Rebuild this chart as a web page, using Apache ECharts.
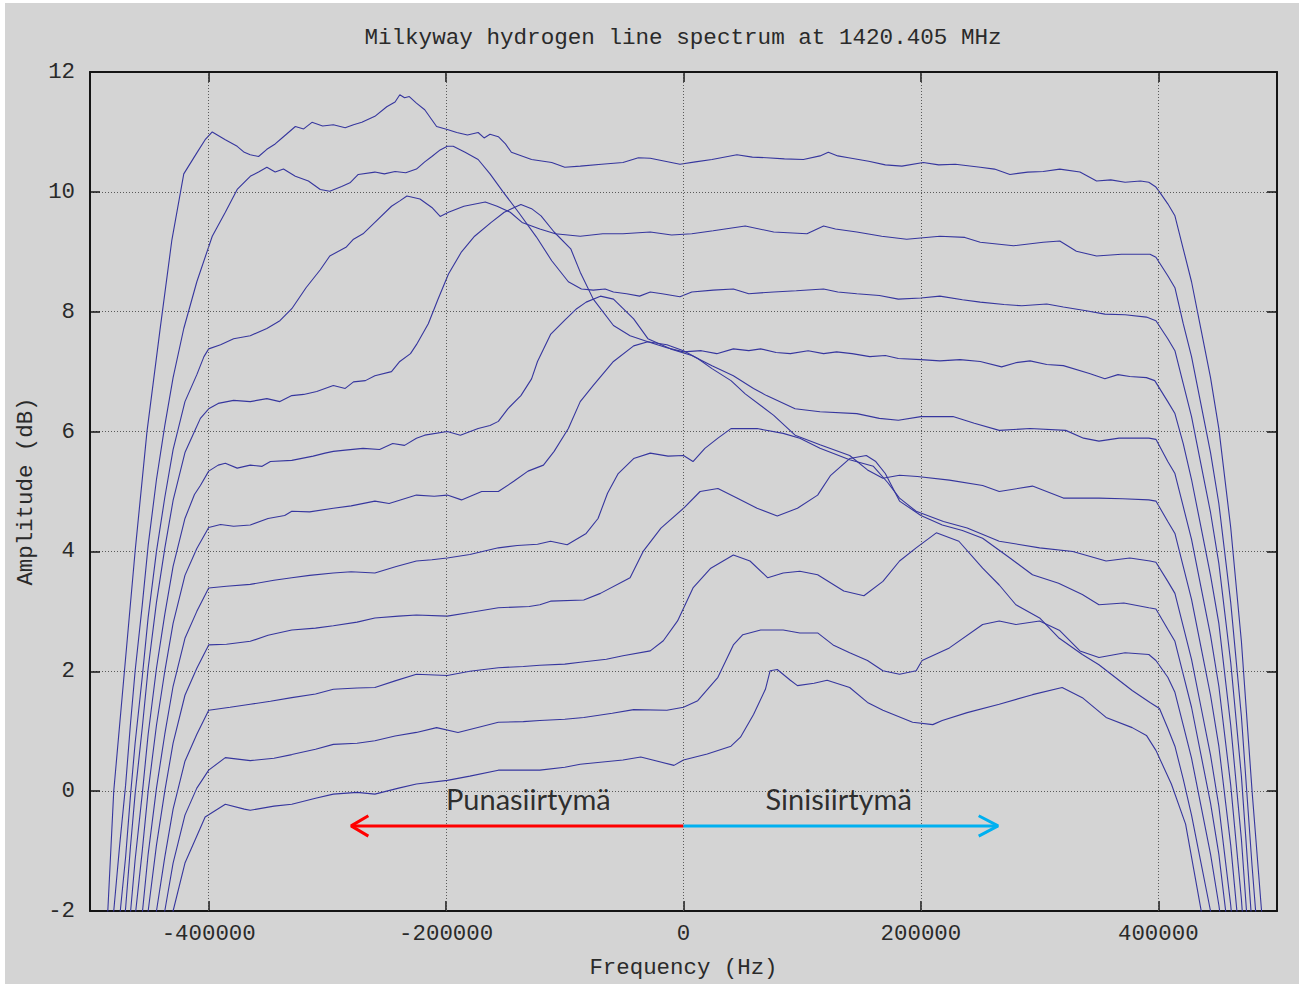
<!DOCTYPE html>
<html>
<head>
<meta charset="utf-8">
<script src="https://cdn.jsdelivr.net/npm/echarts@6/dist/echarts.min.js"></script>
<style>
  html, body { margin: 0; padding: 0; background: #ffffff; width: 1299px; height: 984px; overflow: hidden; }
  #chart { position: absolute; left: 5px; top: 3px; width: 1294px; height: 981px; background: #d4d4d4; }
</style>
</head>
<body>
<div id="chart"></div>
<script>
// Eleven drift-scan spectra, [frequency offset in kHz, amplitude in dB]
const spectrum01 = [[-490,-3.6],[-485,-2],[-480,0],[-471,2],[-462,4],[-452,6],[-441,7.7],[-431,9.2],[-421,10.3],[-410,10.65],[-403,10.87],
  [-397,11.0],[-386,10.87],[-376,10.76],[-370,10.66],[-365,10.62],[-358,10.59],[-351,10.71],[-344,10.8],[-337,10.92],[-327,11.09],[-320,11.05],[-313,11.16],[-304,11.1],[-295,11.12],[-285,11.07],[-278,11.12],[-271,11.16],[-260,11.26],[-250,11.42],[-243,11.5],[-239,11.62],[-235,11.57],[-231,11.59],[-225,11.48],[-218,11.37],[-208,11.09],[-199,11.04],[-191,10.99],[-182,10.95],[-173,10.99],[-168,10.9],[-163,10.96],[-156,10.92],[-150,10.8],[-145,10.66],[-128,10.54],[-111,10.49],[-100,10.41],[-87,10.43],[-69,10.46],[-51,10.49],[-38,10.57],[-28,10.56],[-3,10.46],[10,10.5],[24,10.54],[45,10.62],[58,10.58],[70,10.57],[85,10.55],[101,10.54],[115,10.6],[122,10.66],[130,10.6],[139,10.57],[156,10.51],[170,10.45],[184,10.43],[202,10.49],[215,10.45],[229,10.46],[250,10.41],[262,10.38],[275,10.29],[290,10.33],[303,10.34],[317,10.38],[334,10.33],[348,10.18],[360,10.2],[372,10.16],[385,10.18],[392,10.16],[398,10.08],
  [401,10.0],[408,9.8],[414,9.6],[421,9.05],[428,8.5],[436,7.7],[444,6.9],[451,6.05],[461,4.4],[470,2.5],[479,0],[487,-2],[492,-3.3]];

const spectrum02 = [[-485,-4],[-480,-2],[-475,-0.9],[-470,0.1],[-466,1.1],[-462,2.0],[-456,3.1],[-451,4.1],[-444,5.2],[-437,6.1],[-430,6.9],[-421,7.72],[-410,8.5],[-397,9.26],[-386,9.66],[-376,10.04],[-365,10.26],[-358,10.33],[-351,10.41],[-344,10.33],[-337,10.38],[-327,10.26],[-316,10.18],[-306,10.04],[-298,10.01],[-288,10.09],[-281,10.15],[-274,10.29],[-260,10.33],[-252,10.3],[-243,10.34],[-234,10.32],[-225,10.38],[-218,10.5],[-212,10.59],[-205,10.7],[-199,10.76],[-194,10.76],[-184,10.66],[-173,10.54],[-163,10.3],[-152,10.0],[-139,9.66],[-124,9.25],[-111,8.85],[-97,8.5],[-86,8.38],[-76,8.36],
  [-66,8.38],[-59,8.33],[-48,8.3],[-37,8.26],[-28,8.33],[-18,8.3],[-3,8.25],[7,8.33],[25,8.36],[42,8.38],[55,8.3],[76,8.33],[95,8.35],[118,8.38],[130,8.33],[146,8.3],[165,8.27],[181,8.21],[200,8.23],[216,8.26],[235,8.2],[250,8.16],[270,8.12],[285,8.1],[306,8.13],[320,8.08],[338,8.02],[355,7.96],[372,7.95],[390,7.91],[398,7.85],
  [408,7.55],[414,7.35],[421,6.8],[428,6.25],[436,5.45],[444,4.65],[451,3.8],[461,2.15],[470,0.25],[479,-2.25],[487,-4.2]];

const spectrum03 = [[-480,-3.3],[-475,-2.1],[-470,-1.1],[-466,-0.1],[-462,0.8],[-456,1.9],[-451,2.9],[-444,4.0],[-437,4.9],[-430,5.7],[-420,6.5],[-410,6.95],[-404,7.25],[-400,7.38],[-390,7.45],[-379,7.55],[-365,7.6],[-351,7.72],[-340,7.85],[-330,8.05],[-318,8.4],[-306,8.7],[-298,8.93],[-284,9.08],[-278,9.21],[-270,9.3],[-260,9.49],[-246,9.76],[-239,9.85],[-233,9.93],[-222,9.88],[-212,9.74],[-205,9.59],[-198,9.66],[-185,9.76],[-167,9.83],[-157,9.76],[-146,9.66],[-136,9.49],[-121,9.38],[-108,9.3],[-87,9.26],[-68,9.3],[-51,9.3],[-28,9.33],
  [-10,9.28],[7,9.3],[25,9.35],[35,9.38],[52,9.43],[76,9.33],[104,9.3],[118,9.43],[128,9.38],[146,9.33],[167,9.26],[188,9.21],[216,9.26],[237,9.24],[250,9.16],[278,9.1],[303,9.16],[317,9.18],[331,9.01],[348,8.93],[369,8.96],[393,8.96],[398,8.91],
  [408,8.6],[414,8.4],[421,7.8],[428,7.25],[436,6.45],[444,5.65],[451,4.8],[461,3.15],[470,1.25],[479,-1.25],[487,-3.25]];

const spectrum04 = [[-475,-2.95],[-470,-1.95],[-466,-0.95],[-462,-0.05],[-456,1.05],[-451,2.05],[-444,3.15],[-437,4.05],[-430,4.85],[-420,5.65],[-412,6.0],[-407,6.22],[-400,6.38],[-392,6.47],[-379,6.52],[-365,6.5],[-351,6.55],[-340,6.5],[-330,6.6],[-320,6.62],[-309,6.67],[-295,6.77],[-285,6.72],[-278,6.83],[-268,6.85],[-260,6.93],[-246,7.0],[-239,7.17],[-230,7.3],[-225,7.45],[-215,7.8],[-207,8.2],[-198,8.63],[-187,9.0],[-176,9.26],[-162,9.49],[-151,9.66],[-137,9.79],[-128,9.72],[-120,9.6],[-109,9.33],[-95,9.05],[-87,8.66],[-76,8.21],[-59,7.77],[-45,7.6],[-30,7.5],[-14,7.4],
  [0,7.33],[15,7.35],[28,7.3],[42,7.38],[55,7.35],[65,7.38],[78,7.32],[90,7.3],[105,7.35],[118,7.3],[129,7.33],[142,7.3],[157,7.25],[170,7.27],[181,7.22],[200,7.2],[216,7.18],[233,7.2],[250,7.17],[268,7.08],[280,7.15],[292,7.18],[306,7.12],[320,7.1],[342,6.97],[355,6.88],[366,6.95],[376,6.92],[390,6.9],[397,6.85],
  [408,6.5],[414,6.3],[421,5.8],[428,5.2],[436,4.4],[444,3.6],[451,2.8],[461,1.1],[470,-0.8],[479,-3.3]];

const spectrum05 = [[-470,-3.05],[-466,-2.05],[-462,-1.15],[-456,-0.05],[-451,0.95],[-444,2.05],[-437,2.95],[-430,3.75],[-420,4.55],[-412,4.95],[-407,5.1],[-400,5.34],[-392,5.44],[-386,5.47],[-376,5.39],[-365,5.44],[-355,5.42],[-348,5.5],[-330,5.52],[-312,5.59],[-302,5.64],[-295,5.67],[-285,5.69],[-270,5.72],[-256,5.7],[-245,5.8],[-235,5.77],[-225,5.89],[-218,5.94],[-199,6.0],[-188,5.94],[-173,6.05],[-163,6.1],[-156,6.17],[-148,6.38],[-137,6.6],[-128,6.88],[-123,7.17],[-112,7.62],[-100,7.86],[-90,8.05],[-82,8.16],[-70,8.26],[-59,8.21],[-42,7.88],[-30,7.55],[-11,7.38],[7,7.27],[24,7.1],[42,6.93],[59,6.72],[70,6.6],[94,6.38],[115,6.33],[146,6.3],[165,6.22],[181,6.19],[200,6.25],[227,6.25],[245,6.14],[266,6.02],[292,6.05],[322,6.02],[337,5.89],[350,5.84],[367,5.89],[392,5.89],[398,5.87],
  [408,5.5],[414,5.3],[421,4.75],[428,4.2],[436,3.4],[444,2.6],[451,1.75],[461,0.1],[470,-1.8],[479,-4.3]];

const spectrum06 = [[-466,-3.0],[-462,-2.1],[-456,-1.0],[-451,0.0],[-444,1.1],[-437,2.0],[-430,2.8],[-420,3.6],[-410,4.05],[-400,4.4],[-390,4.45],[-379,4.42],[-365,4.44],[-350,4.55],[-336,4.6],[-330,4.67],[-315,4.66],[-295,4.72],[-280,4.76],[-260,4.84],[-248,4.8],[-225,4.94],[-210,4.92],[-199,4.94],[-187,4.86],[-170,5.0],[-156,5.0],[-143,5.17],[-131,5.34],[-118,5.44],[-109,5.67],[-97,6.05],[-87,6.5],[-76,6.77],[-59,7.17],[-42,7.43],[-30,7.5],[-14,7.45],[0,7.35],[12,7.22],[24,7.05],[40,6.85],[52,6.63],[76,6.27],[94,5.94],[115,5.78],[140,5.6],[155,5.36],[168,5.22],[182,5.27],[197,5.25],[224,5.19],[252,5.1],[266,5.0],[294,5.09],[320,4.89],[350,4.89],[370,4.88],[392,4.86],[398,4.84],
  [408,4.5],[414,4.3],[421,3.75],[428,3.2],[436,2.4],[444,1.6],[451,0.75],[461,-0.9],[470,-2.8]];

const spectrum07 = [[-462,-3.15],[-456,-2.05],[-451,-1.05],[-444,0.05],[-437,0.95],[-430,1.75],[-420,2.55],[-410,3.0],[-400,3.39],[-385,3.42],[-365,3.45],[-345,3.52],[-330,3.56],[-315,3.6],[-295,3.64],[-280,3.66],[-260,3.64],[-242,3.75],[-225,3.84],[-212,3.86],[-199,3.89],[-180,3.95],[-156,4.06],[-140,4.1],[-123,4.12],[-112,4.17],[-98,4.11],[-82,4.3],[-72,4.55],[-64,4.97],[-55,5.3],[-42,5.55],[-28,5.64],[-13,5.59],[0,5.6],[8,5.5],[18,5.72],[29,5.89],[40,6.05],[62,6.05],[84,5.97],[98,5.89],[115,5.72],[140,5.53],[160,5.42],[172,5.15],[182,4.89],[196,4.67],[219,4.5],[239,4.39],[266,4.17],[300,4.06],[328,4.0],[356,3.84],[376,3.89],[393,3.84],[398,3.82],
  [408,3.5],[414,3.3],[421,2.75],[428,2.2],[436,1.4],[444,0.6],[451,-0.25],[461,-1.9],[470,-3.8]];

const spectrum08 = [[-456,-3.0],[-451,-2.0],[-444,-0.9],[-437,0.0],[-430,0.8],[-420,1.6],[-410,2.05],[-400,2.44],[-385,2.45],[-365,2.5],[-350,2.6],[-330,2.69],[-310,2.72],[-295,2.76],[-275,2.82],[-260,2.89],[-240,2.92],[-225,2.94],[-199,2.92],[-180,2.98],[-156,3.06],[-130,3.08],[-121,3.11],[-112,3.17],[-84,3.19],[-70,3.3],[-51,3.5],[-45,3.56],[-34,4.0],[-19,4.39],[0,4.72],[14,5.0],[29,5.05],[45,4.89],[62,4.72],[79,4.59],[96,4.72],[113,4.94],[124,5.27],[140,5.55],[154,5.6],[162,5.5],[170,5.3],[182,4.84],[200,4.6],[218,4.44],[235,4.35],[252,4.22],[275,3.89],[294,3.61],[316,3.47],[336,3.28],[350,3.11],[371,3.14],[392,3.06],[398,3.04],
  [408,2.7],[414,2.5],[421,1.95],[428,1.4],[436,0.6],[444,-0.2],[451,-1.05],[461,-2.7]];

const spectrum09 = [[-451,-3.1],[-444,-2.0],[-437,-1.1],[-430,-0.3],[-420,0.5],[-410,0.95],[-400,1.35],[-382,1.4],[-365,1.45],[-348,1.5],[-330,1.56],[-310,1.62],[-295,1.7],[-275,1.72],[-260,1.73],[-243,1.84],[-225,1.95],[-199,1.93],[-180,2.0],[-156,2.06],[-135,2.08],[-121,2.1],[-100,2.12],[-87,2.15],[-65,2.2],[-51,2.26],[-28,2.34],[-17,2.51],[-5,2.84],[8,3.39],[23,3.72],[42,3.94],[56,3.84],[71,3.56],[84,3.64],[98,3.67],[113,3.61],[135,3.34],[152,3.26],[168,3.5],[182,3.84],[196,4.06],[213,4.31],[232,4.17],[252,3.72],[266,3.44],[280,3.11],[300,2.89],[316,2.56],[336,2.28],[350,2.11],[378,1.68],[393,1.48],[401,1.38],
  [408,1.05],[414,0.75],[421,0.2],[428,-0.4],[436,-1.2],[444,-2.0],[451,-2.9]];

const spectrum10 = [[-444,-2.9],[-437,-2.0],[-430,-1.2],[-420,-0.4],[-410,0.05],[-400,0.35],[-386,0.56],[-365,0.51],[-345,0.55],[-330,0.61],[-310,0.7],[-295,0.78],[-275,0.8],[-260,0.84],[-243,0.92],[-225,0.98],[-208,1.06],[-190,0.98],[-170,1.08],[-156,1.15],[-135,1.16],[-121,1.18],[-100,1.2],[-84,1.23],[-60,1.3],[-42,1.36],[-14,1.35],[0,1.4],[12,1.51],[29,1.9],[42,2.44],[50,2.61],[65,2.69],[84,2.69],[98,2.64],[113,2.64],[126,2.44],[140,2.31],[155,2.18],[168,2.01],[182,1.95],[196,2.01],[201,2.18],[224,2.39],[252,2.78],[266,2.84],[280,2.78],[300,2.84],[317,2.68],[334,2.34],[350,2.23],[372,2.31],[392,2.28],[398,2.18],
  [408,1.9],[414,1.65],[421,1.1],[428,0.55],[436,-0.25],[444,-1.05],[451,-1.9],[456,-2.6]];

const spectrum11 = [[-437,-2.8],[-430,-2.0],[-420,-1.2],[-410,-0.75],[-403,-0.43],[-386,-0.22],[-370,-0.3],[-365,-0.32],[-345,-0.25],[-330,-0.22],[-310,-0.12],[-295,-0.05],[-275,-0.02],[-260,-0.05],[-240,0.05],[-225,0.12],[-199,0.18],[-180,0.25],[-156,0.35],[-121,0.35],[-100,0.4],[-87,0.45],[-51,0.52],[-36,0.57],[-8,0.43],[0,0.52],[20,0.62],[40,0.75],[48,0.9],[59,1.28],[69,1.7],[73,2.01],[79,2.03],[90,1.85],[96,1.76],[110,1.8],[121,1.85],[140,1.73],[155,1.48],[168,1.35],[193,1.15],[210,1.11],[218,1.18],[239,1.31],[266,1.45],[294,1.61],[319,1.73],[336,1.56],[356,1.23],[378,1.06],[390,0.93],[398,0.68],
  [411,0.12],[423,-0.55],[436,-1.98],[440,-2.8]];

const spectra = [spectrum01, spectrum02, spectrum03, spectrum04, spectrum05, spectrum06,
                 spectrum07, spectrum08, spectrum09, spectrum10, spectrum11];

// Axis ticks (Hz)
const frequencyTicks = [-400000, -200000, 0, 200000, 400000];

// Shift arrows [Hz, dB]: shaft and chevron head
const redshiftShaft = [[0, -0.58], [-280000, -0.58]];
const redshiftHead = [[-265500, -0.41], [-280000, -0.58], [-265500, -0.75]];
const blueshiftShaft = [[0, -0.58], [265000, -0.58]];
const blueshiftHead = [[248700, -0.41], [265000, -0.58], [248700, -0.75]];
const shiftLabels = [
  { name: 'Punasiirtymä', value: [-130700, -0.13] },
  { name: 'Sinisiirtymä', value: [130700, -0.13] }
];

const monoFont = 'Liberation Mono';
const inkColor = '#2a2a2a';
const frameStyle = { color: '#151515', width: 2 };
const gridLineStyle = { type: [1, 2], color: '#5a5a5a', width: 1 };
const traceColor = '#36369e';

const chart = echarts.init(document.getElementById('chart'), null, { renderer: 'svg' });

const traceSeries = spectra.map((pts, i) => ({
  name: 'scan ' + (i + 1),
  type: 'line',
  data: pts.map(p => [p[0] * 1000, p[1]]),
  showSymbol: false,
  symbol: 'none',
  silent: true,
  clip: true,
  z: 3,
  lineStyle: { width: 1.1, color: traceColor }
}));

const option = {
  animation: false,
  backgroundColor: 'transparent',
  grid: { left: 85, right: 22, top: 69, bottom: 70, containLabel: false },
  graphic: [{
    type: 'text',
    x: 678, y: 35,
    style: {
      text: 'Milkyway hydrogen line spectrum at 1420.405 MHz',
      font: '22.6px "Liberation Mono", monospace',
      fill: inkColor,
      align: 'center',
      verticalAlign: 'middle'
    }
  }],
  xAxis: [{
    type: 'value', min: -500000, max: 500000, position: 'bottom',
    axisLine: { show: true, onZero: false, lineStyle: frameStyle },
    axisTick: { show: true, inside: true, length: 10, customValues: frequencyTicks, lineStyle: { color: '#151515', width: 1.5 } },
    axisLabel: { show: true, customValues: frequencyTicks, formatter: v => String(v), margin: 12,
                 fontFamily: monoFont, fontSize: 22.4, color: inkColor },
    splitLine: { show: false },
    name: 'Frequency (Hz)', nameLocation: 'middle', nameGap: 46,
    nameTextStyle: { fontFamily: monoFont, fontSize: 22.4, color: inkColor }
  }, {
    type: 'value', min: -500000, max: 500000, position: 'top',
    axisLine: { show: true, onZero: false, lineStyle: frameStyle },
    axisTick: { show: true, inside: true, length: 10, customValues: frequencyTicks, lineStyle: { color: '#151515', width: 1.5 } },
    axisLabel: { show: false },
    splitLine: { show: false }
  }],
  yAxis: [{
    type: 'value', min: -2, max: 12, interval: 2, position: 'left',
    axisLine: { show: true, onZero: false, lineStyle: frameStyle },
    axisTick: { show: true, inside: true, length: 10, lineStyle: { color: '#151515', width: 1.5 } },
    axisLabel: { margin: 15, fontFamily: monoFont, fontSize: 22.4, color: inkColor },
    splitLine: { show: true, lineStyle: gridLineStyle },
    name: 'Amplitude (dB)', nameLocation: 'middle', nameGap: 50,
    nameTextStyle: { fontFamily: monoFont, fontSize: 22.4, color: inkColor }
  }, {
    type: 'value', min: -2, max: 12, interval: 2, position: 'right',
    axisLine: { show: true, onZero: false, lineStyle: frameStyle },
    axisTick: { show: true, inside: true, length: 10, lineStyle: { color: '#151515', width: 1.5 } },
    axisLabel: { show: false },
    splitLine: { show: false }
  }],
  series: [
    {
      name: 'frequency grid', type: 'line', data: [], z: 1, silent: true,
      markLine: {
        silent: true, symbol: ['none', 'none'], animation: false,
        label: { show: false },
        lineStyle: gridLineStyle,
        emphasis: { disabled: true },
        data: frequencyTicks.map(v => ({ xAxis: v }))
      }
    },
    ...traceSeries,
    { name: 'redshift', type: 'line', data: redshiftShaft, symbol: 'none', silent: true, z: 5,
      lineStyle: { color: '#ff0000', width: 3 } },
    { name: 'redshift head', type: 'line', data: redshiftHead, symbol: 'none', silent: true, z: 5,
      lineStyle: { color: '#ff0000', width: 3 } },
    { name: 'blueshift', type: 'line', data: blueshiftShaft, symbol: 'none', silent: true, z: 5,
      lineStyle: { color: '#00b0f0', width: 3 } },
    { name: 'blueshift head', type: 'line', data: blueshiftHead, symbol: 'none', silent: true, z: 5,
      lineStyle: { color: '#00b0f0', width: 3 } },
    { name: 'shift labels', type: 'scatter', data: shiftLabels, symbolSize: 0, silent: true, z: 6,
      label: { show: true, position: 'inside', formatter: '{b}', fontFamily: 'Lato', fontSize: 29, color: '#000000' } }
  ]
};

chart.setOption(option);
</script>
</body>
</html>
